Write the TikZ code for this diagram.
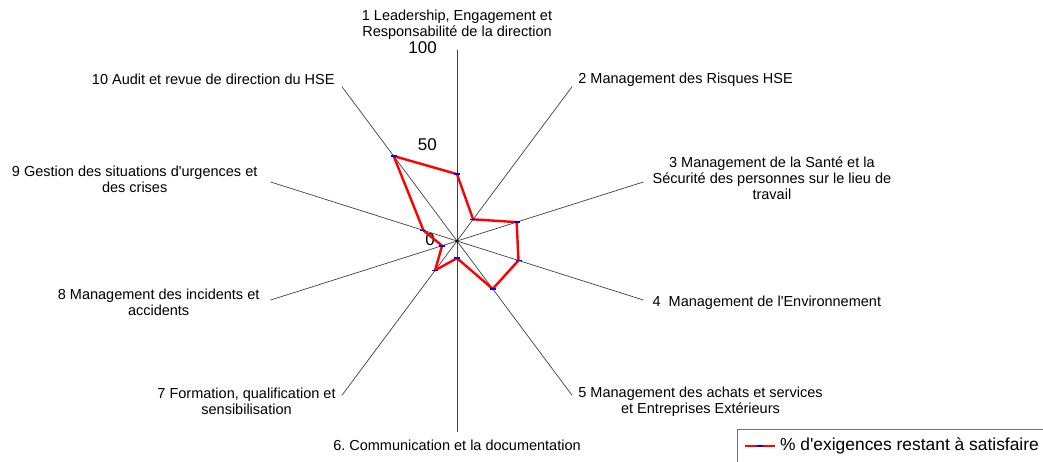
\documentclass[tikz,border=0pt]{standalone}
\usepackage{fontspec}
\setmainfont{Liberation Sans}
\usetikzlibrary{calc, positioning}

\begin{document}
\begin{tikzpicture}[
    x=1.96pt, y=1.91pt, % 100 = longueur d'un axe
    axe/.style={
      draw=black!75,
      line width=0.7pt
    },
    lbl/.style={
      align=center,
      inner sep=0pt,
      font=\fontsize{14.5}{16}\selectfont
    },
    echelle/.style={
      anchor=east,
      inner sep=0pt,
      font=\fontsize{17}{17}\selectfont
    },
    serie/.style={
      draw=red,
      line width=2.4pt,
      line join=round
    },
    marque/.style={
      draw=blue,
      line width=1.6pt
    }
  ]

  % Cadre de l'image
  \useasboundingbox (-457pt,-221pt) rectangle (586pt,241pt);

  % Les axes
  \coordinate (o) at (0,0);
  \foreach \i in {1,...,10} {
    \coordinate (a\i) at ({90-36*(\i-1)}:100);
    \draw[axe] (o) -- (a\i);
  }
  \fill (o) circle (1.4pt);

  % Graduations
  \node[echelle] (t100) at (-20pt,193pt) {100};
  \node[echelle] (t50) at (-20pt,96pt) {50};
  \node[echelle] (t0) at (-22pt,1pt) {0};

  % Les valeurs
  \foreach \i/\v in {1/35, 2/14, 3/32, 4/33, 5/31, 6/9, 7/19, 8/8, 9/18, 10/55}
    \coordinate (p\i) at ({90-36*(\i-1)}:\v);
  \draw[serie] (p1) -- (p2) -- (p3) -- (p4) -- (p5) -- (p6) -- (p7) -- (p8) -- (p9) -- (p10) -- cycle;
  \foreach \i in {1,...,10}
    \draw[marque] ([xshift=-3pt]p\i) -- ([xshift=3pt]p\i);

  % Les libellés
  \node[lbl, anchor=south] (l1) at ([yshift=10pt]a1) {1 Leadership, Engagement et\\Responsabilité de la direction};
  \node[lbl, anchor=west] (l2) at ([xshift=6pt, yshift=7pt]a2) {2 Management des Risques HSE};
  \node[lbl, anchor=west] (l3) at ([xshift=9pt, yshift=4pt]a3) {3 Management de la Santé et la\\Sécurité des personnes sur le lieu de\\travail};
  \node[lbl, anchor=west] (l4) at ([xshift=9pt, yshift=-3pt]a4) {4\ \ Management de l\textquotesingle Environnement};
  \node[lbl, anchor=west] (l5) at ([xshift=6pt, yshift=-6pt]a5) {5 Management des achats et services\\et Entreprises Extérieurs};
  \node[lbl, anchor=north] (l6) at ([yshift=-8pt]a6) {6.\ Communication et la documentation};
  \node[lbl, anchor=east] (l7) at ([xshift=-6pt, yshift=-6pt]a7) {7 Formation, qualification et\\sensibilisation};
  \node[lbl, anchor=east] (l8) at ([xshift=-11pt, yshift=-2pt]a8) {8 Management des incidents et\\accidents};
  \node[lbl, anchor=east] (l9) at ([xshift=-13pt, yshift=3pt]a9) {9 Gestion des situations d\textquotesingle urgences et\\des crises};
  \node[lbl, anchor=east] (l10) at ([xshift=-7pt, yshift=7pt]a10) {10 Audit et revue de direction du HSE};

  % Légende
  \coordinate (lgb) at (280pt,-221pt);
  \coordinate (lgr) at (586pt,-188pt);
  \draw[draw=black!55, line width=0.8pt] (lgb) |- (lgr);
  \coordinate (lg1) at (288pt,-205pt);
  \coordinate (lg2) at (318pt,-205pt);
  \coordinate (lgm) at ($(lg1)!0.5!(lg2)$);
  \draw[serie, line width=2pt] (lg1) -- (lg2);
  \draw[marque, line width=1.4pt] ([xshift=-3pt]lgm) -- ([xshift=3pt]lgm);
  \node[anchor=west, inner sep=0pt, font=\fontsize{17.4}{17}\selectfont] (lgt) at ([xshift=5pt]lg2) {\% d\textquotesingle exigences restant à satisfaire};

\end{tikzpicture}
\end{document}
